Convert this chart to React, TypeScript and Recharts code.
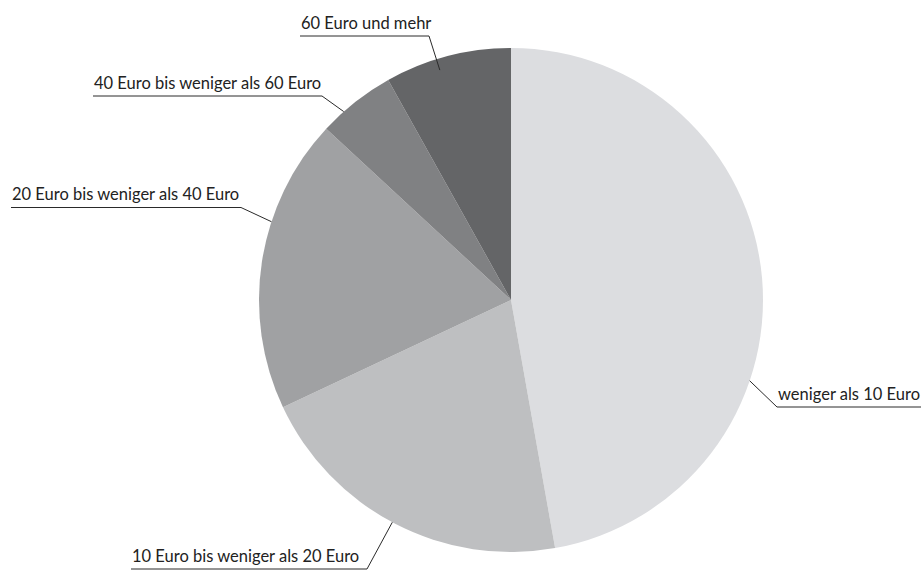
import React from "react";
import { PieChart, Pie, Cell } from "recharts";

const categories = [
  "weniger als 10 Euro",
  "10 Euro bis weniger als 20 Euro",
  "20 Euro bis weniger als 40 Euro",
  "40 Euro bis weniger als 60 Euro",
  "60 Euro und mehr",
];
const shares = [47.2, 20.8, 18.9, 5.0, 8.1];
const colors = ["#dcdde0", "#bebfc1", "#a0a1a3", "#808183", "#646567"];

// label layout: line start angle (deg clockwise from top), radius factor, elbow, underline end, text side
const labelLayout = [
  { angle: 108.7, rf: 1.0, ex: 777, ey: 407, lx: 921, side: "right" },
  { angle: 208.1, rf: 1.0, ex: 367, ey: 569, lx: 131, side: "left" },
  { angle: 288.1, rf: 1.0, ex: 241, ey: 207.5, lx: 11, side: "left" },
  { angle: 318.4, rf: 1.0, ex: 322, ey: 96, lx: 93, side: "left" },
  { angle: 342.8, rf: 0.955, ex: 429, ey: 36, lx: 300, side: "left" },
];

const data = categories.map((name, i) => ({ name, value: shares[i] }));

const renderLabel = (props: any) => {
  const { cx, cy, outerRadius, index } = props;
  const L = labelLayout[index];
  const a = (L.angle * Math.PI) / 180;
  const r = outerRadius * L.rf;
  const sx = cx + r * Math.sin(a);
  const sy = cy - r * Math.cos(a);
  return (
    <g>
      <polyline
        points={`${sx},${sy} ${L.ex},${L.ey} ${L.lx},${L.ey}`}
        fill="none"
        stroke="#2a2a2a"
        strokeWidth={1}
      />
      <text
        x={L.side === "right" ? L.ex + 1 : L.lx + 1}
        y={L.ey - 7.5}
        textAnchor="start"
        fontFamily="Lato, 'Open Sans', sans-serif"
        fontSize={16.5}
        fill="#222"
      >
        {categories[index]}
      </text>
    </g>
  );
};

export default function App() {
  return (
    <div style={{ position: "absolute", left: 0, top: 0, width: 922, height: 570, background: "#fff" }}>
      <PieChart width={922} height={570} margin={{ top: 0, right: 0, bottom: 0, left: 0 }}>
        <Pie
          data={data}
          dataKey="value"
          nameKey="name"
          cx={511}
          cy={300}
          outerRadius={252}
          startAngle={90}
          endAngle={-270}
          stroke="none"
          label={renderLabel}
          labelLine={false}
          isAnimationActive={false}
        >
          {data.map((d, i) => (
            <Cell key={d.name} fill={colors[i]} />
          ))}
        </Pie>
      </PieChart>
    </div>
  );
}
